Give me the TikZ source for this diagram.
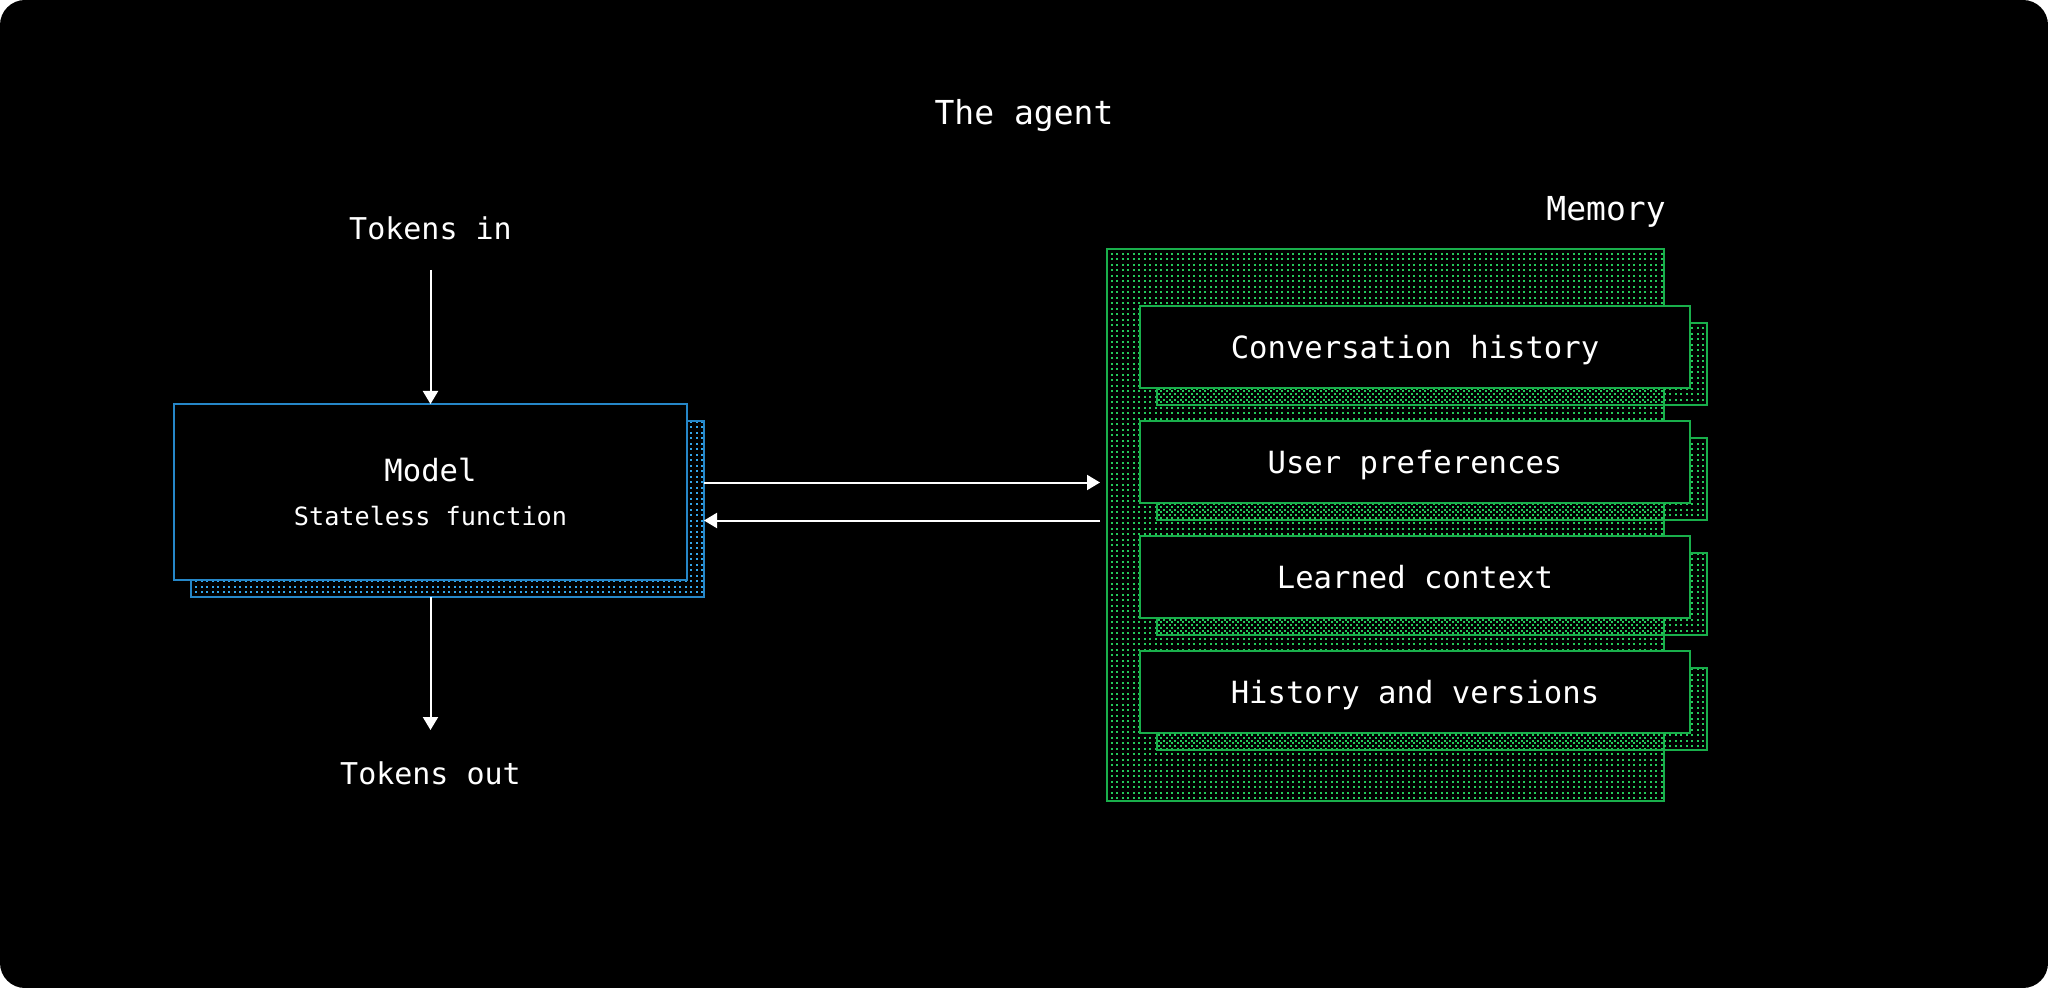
\documentclass[tikz,border=0pt]{standalone}
\usepackage{fontspec}
\setmainfont{DejaVu Sans Mono}
\setmonofont{DejaVu Sans Mono}
\usetikzlibrary{arrows.meta}
\definecolor{bluedot}{RGB}{50,165,235}
\definecolor{blueline}{RGB}{38,135,200}
\definecolor{greendot}{RGB}{35,200,90}
\definecolor{greenline}{RGB}{25,175,75}
% grid of square dots, pitch alternating 5/6 px: colour, x1, y1, x2, y2, offset (px units)
\newcommand{\mydotgrid}[6]{%
  \begin{scope}
    \clip (#2,#3) rectangle (#4,#5);
    \pgfmathtruncatemacro{\gsx}{#2 - mod(#2-#6,11)}
    \pgfmathtruncatemacro{\gka}{floor((#3-#6)/5.5)}
    \pgfmathtruncatemacro{\gkb}{ceil((#5-#6)/5.5)}
    \foreach \k in {\gka,...,\gkb}{
      \pgfmathsetmacro{\yy}{#6+floor(\k*5.5)+1.2}
      \draw[#1, line width=1.2pt, dash pattern=on 1.2pt off 1.3pt on 1.2pt off 1.8pt] (\gsx,\yy) -- (#4,\yy);
    }
  \end{scope}}
\tikzset{
  box/.style={anchor=north west, inner sep=0pt, outer sep=0pt, line width=0.8pt},
  modelfront/.style={box, draw=blueline, fill=black, minimum width=256.5pt, minimum height=88pt},
  modelback/.style={box, draw=blueline, minimum width=256.5pt, minimum height=88pt},
  membig/.style={box, draw=greenline, minimum width=278.5pt, minimum height=276pt},
  itemback/.style={box, draw=greenline, minimum width=275pt, minimum height=41pt},
  itemfront/.style={box, draw=greenline, fill=black, minimum width=275pt, minimum height=41pt,
    text=white, font=\fontsize{15.3pt}{18pt}\selectfont, text height=11.1pt, text depth=0pt},
  lbl/.style={text=white, inner sep=0pt, anchor=base},
  arr/.style={draw=white, line width=1pt, -{Triangle[length=6.5pt,width=7.5pt]}}
}
\begin{document}
\begin{tikzpicture}[x=0.5pt,y=-0.5pt]
\useasboundingbox (0,0) rectangle (2048,988);
\fill[white] (0,0) rectangle (2048,988);
\fill[black, rounded corners=12.5pt] (0,0) rectangle (2048,988);

% title
\node[lbl, font=\fontsize{16.5pt}{20pt}\selectfont] (title) at (1024,125) {The agent};

% model
\mydotgrid{bluedot}{191}{421}{704}{597}{3}
\node[modelback] (mback) at (191,421) {};
\node[modelfront] (mfront) at (174,404) {};
\node[lbl, font=\fontsize{15.3pt}{18pt}\selectfont] (mtitle) at (430.5,481) {Model};
\node[lbl, font=\fontsize{12.6pt}{15pt}\selectfont] (msub) at (430.5,525) {Stateless function};

% tokens
\node[lbl, font=\fontsize{15pt}{18pt}\selectfont] (tokin) at (430.5,239.5) {Tokens in};
\node[lbl, font=\fontsize{15pt}{18pt}\selectfont] (tokout) at (430.5,784) {Tokens out};
\coordinate (instart) at (430.5,270);
\coordinate (outend) at (430.5,730);
\draw[arr] (instart) -- (mfront.north);
\draw[arr] (mback.south -| outend) -- (outend);

% memory
\node[lbl, anchor=base east, font=\fontsize{16.5pt}{20pt}\selectfont] (memlbl) at (1666,221) {Memory};
\mydotgrid{greendot}{1107}{249}{1664}{801}{0}
\node[membig] (mem) at (1107,249) {};
\foreach \t/\n [count=\i from 0] in {Conversation history/conv, User preferences/user, Learned context/learn, History and versions/hist}{
  \pgfmathsetmacro{\ty}{306+115*\i}
  \pgfmathsetmacro{\by}{323+115*\i}
  \pgfmathsetmacro{\bb}{323+115*\i+82}
  \mydotgrid{greendot}{1157}{\by}{1707}{\bb}{3}
  \node[itemback] (\n back) at (1157,\by) {};
  \node[itemfront] (\n) at (1140,\ty) {\t};
}

% connectors
\coordinate (memin) at (1100,482.5);
\coordinate (memout) at (1100,520.5);
\draw[arr] (mback.east |- memin) -- (memin);
\draw[arr] (memout) -- (mback.east |- memout);
\end{tikzpicture}
\end{document}
